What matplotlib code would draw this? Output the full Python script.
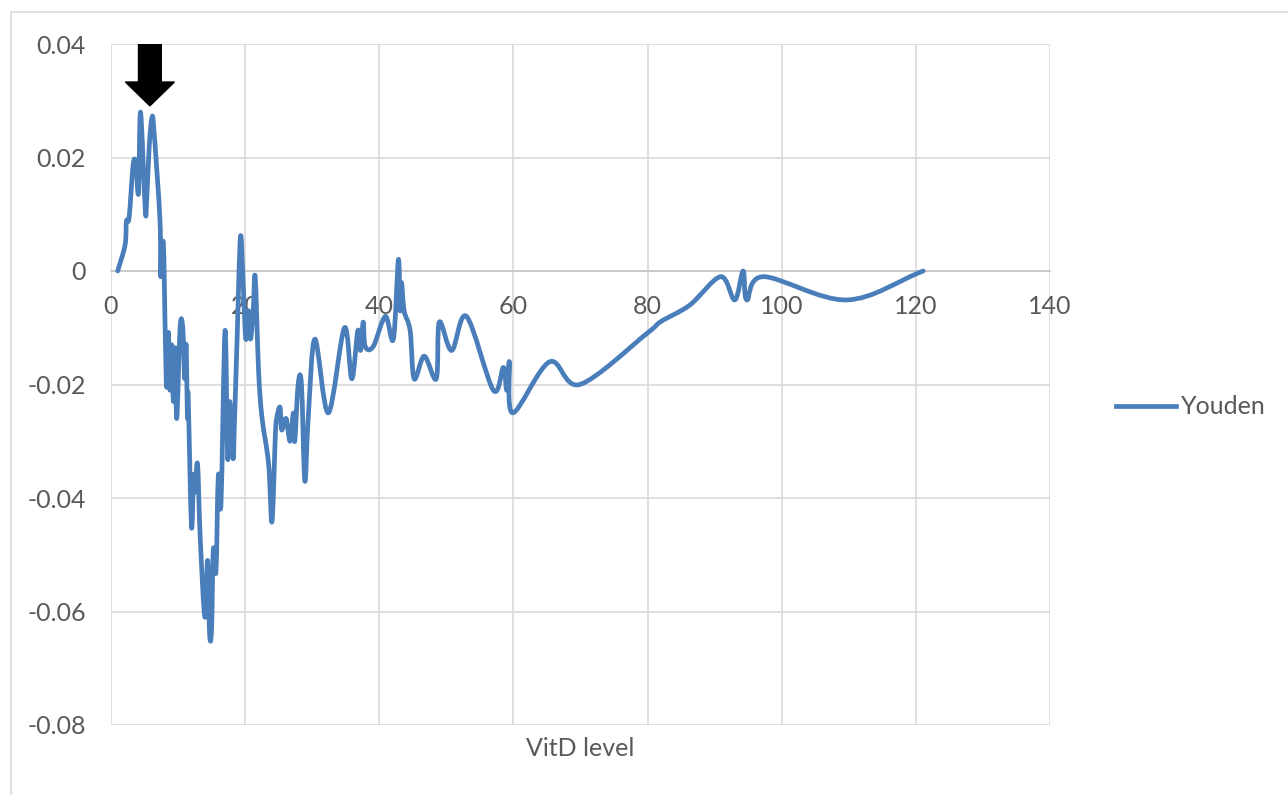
import numpy as np
import matplotlib.pyplot as plt
from matplotlib.path import Path
from matplotlib.patches import PathPatch, FancyArrow, Rectangle
from matplotlib.lines import Line2D

# Youden index against vitamin D cut-off
vitd_level = [
    1.0, 2.1, 2.3, 2.7, 3.3, 3.7, 4.1, 4.4, 5.1, 5.3, 5.7, 6.1, 6.4, 7.3, 7.4,
    7.8, 8.1, 8.3, 8.55, 8.8, 9.05, 9.3, 9.55, 9.8, 10.3, 10.7, 11.0, 11.2,
    11.4, 11.5, 12.0, 12.3, 12.5, 12.9, 13.3, 14.0, 14.4, 14.7, 15.0, 15.25,
    15.65, 16.0, 16.4, 17.0, 17.4, 17.7, 18.2, 18.4, 18.8, 19.3, 19.7, 20.1,
    20.5, 20.8, 21.2, 21.5, 22.0, 22.5, 23.5, 24.0, 24.5, 24.7, 25.2, 25.45,
    26.1, 26.7, 27.2, 27.4, 27.9, 28.4, 28.9, 29.4, 30.4, 32.4, 34.8, 35.9,
    36.8, 37.2, 37.6, 37.9, 39.1, 40.9, 42.1, 42.85, 43.1, 43.3, 43.7, 44.6,
    45.2, 46.7, 48.5, 48.95, 50.8, 53.0, 57.0, 58.5, 59.0, 59.4, 59.9, 65.4,
    69.9, 79.9, 82.0, 86.3, 90.9, 93.0, 94.25, 94.8, 97.3, 109.7, 121.1,
]
youden = [
    0.0, 0.0046, 0.0088, 0.0094, 0.0187, 0.019, 0.0137, 0.028, 0.011, 0.012,
    0.022, 0.027, 0.0248, 0.009, -0.001, 0.005, -0.012, -0.0205, -0.0108,
    -0.021, -0.013, -0.023, -0.0135, -0.026, -0.010, -0.010, -0.019, -0.013,
    -0.026, -0.022, -0.045, -0.036, -0.039, -0.034, -0.047, -0.061, -0.051,
    -0.064, -0.063, -0.049, -0.053, -0.036, -0.041, -0.0105, -0.033, -0.023,
    -0.033, -0.027, -0.012, 0.006, -0.002, -0.012, -0.007, -0.012, -0.007,
    -0.001, -0.0175, -0.0257, -0.034, -0.0442, -0.029, -0.026, -0.024,
    -0.028, -0.026, -0.030, -0.025, -0.030, -0.020, -0.020, -0.037, -0.026,
    -0.012, -0.025, -0.010, -0.019, -0.0105, -0.014, -0.009, -0.0133,
    -0.0133, -0.008, -0.012, 0.002, -0.007, -0.002, -0.007, -0.0105, -0.019,
    -0.015, -0.019, -0.009, -0.014, -0.008, -0.021, -0.017, -0.021, -0.016,
    -0.025, -0.016, -0.020, -0.011, -0.0089, -0.006, -0.001, -0.0051, 0.0,
    -0.0051, -0.001, -0.0051, 0.0,
]

x_ticks = [0, 20, 40, 60, 80, 100, 120, 140]
y_ticks = [-0.08, -0.06, -0.04, -0.02, 0, 0.02, 0.04]
y_tick_labels = ['-0.08', '-0.06', '-0.04', '-0.02', '0', '0.02', '0.04']

# marker arrow over the best cut-off
arrow_x = 5.8
arrow_top = 0.04
arrow_tip = 0.0291

LINE_COLOR = '#4a7ebb'
TEXT_COLOR = '#595959'
GRID_COLOR = '#d9d9d9'


def smooth_path(x, y):
    """Builds a Bezier path through the points (Excel style smoothed line)."""
    pts = np.column_stack([x, y])
    n = len(pts)
    tang = np.zeros_like(pts)
    tang[1:-1] = (pts[2:] - pts[:-2]) / 6.0
    tang[0] = (pts[1] - pts[0]) / 3.0
    tang[-1] = (pts[-1] - pts[-2]) / 3.0
    verts = [pts[0]]
    codes = [Path.MOVETO]
    for i in range(n - 1):
        verts += [pts[i] + tang[i], pts[i + 1] - tang[i + 1], pts[i + 1]]
        codes += [Path.CURVE4] * 3
    return Path(verts, codes)


def plot_youden():
    plt.rcParams['font.family'] = ['Lato', 'DejaVu Sans']
    fig = plt.figure(figsize=(12.88, 7.95), dpi=100)
    ax = fig.add_axes([111 / 1288, 1 - 725 / 795, (1050 - 111) / 1288, (725 - 44) / 795])

    # chart area border
    fig.patches.append(Rectangle((11 / 1288, -0.1), 1.2, 1.1 - 12 / 795,
                                 transform=fig.transFigure, fill=False,
                                 edgecolor=GRID_COLOR, linewidth=1.2))

    ax.set_xlim(0, 140)
    ax.set_ylim(-0.08, 0.04)
    ax.set_xticks(x_ticks)
    ax.set_yticks(y_ticks)
    ax.set_yticklabels(y_tick_labels)
    ax.grid(True, color=GRID_COLOR, linewidth=1.2)
    ax.set_axisbelow(True)

    for side in ['top', 'right', 'left']:
        ax.spines[side].set_visible(False)
    ax.spines['bottom'].set_position(('data', 0))
    ax.spines['bottom'].set_color('#c6c6c6')
    ax.spines['bottom'].set_linewidth(1.2)

    ax.tick_params(axis='both', length=0, labelsize=18, labelcolor=TEXT_COLOR)
    ax.tick_params(axis='x', pad=17)
    ax.tick_params(axis='y', pad=18)

    line = PathPatch(smooth_path(vitd_level, youden), facecolor='none',
                     edgecolor=LINE_COLOR, linewidth=3.4, capstyle='round',
                     joinstyle='round', zorder=3)
    ax.add_patch(line)

    ax.add_patch(FancyArrow(arrow_x, arrow_top, 0, arrow_tip - arrow_top,
                            width=3.4, head_width=7.3, head_length=0.0042,
                            length_includes_head=True, color='black', zorder=4))

    fig.text((111 + 1050) / 2 / 1288, 1 - 748 / 795, 'VitD level',
             ha='center', va='center', fontsize=18, color=TEXT_COLOR)

    handle = Line2D([], [], color=LINE_COLOR, linewidth=3.4)
    fig.legend([handle], ['Youden'], loc='center left',
               bbox_to_anchor=(1116 / 1288, 1 - 407 / 795), frameon=False,
               fontsize=18, labelcolor=TEXT_COLOR, handlelength=2.4,
               handletextpad=0.2, borderpad=0, borderaxespad=0)

    fig.savefig('out.png', dpi=100)


if __name__ == '__main__':
    plot_youden()
